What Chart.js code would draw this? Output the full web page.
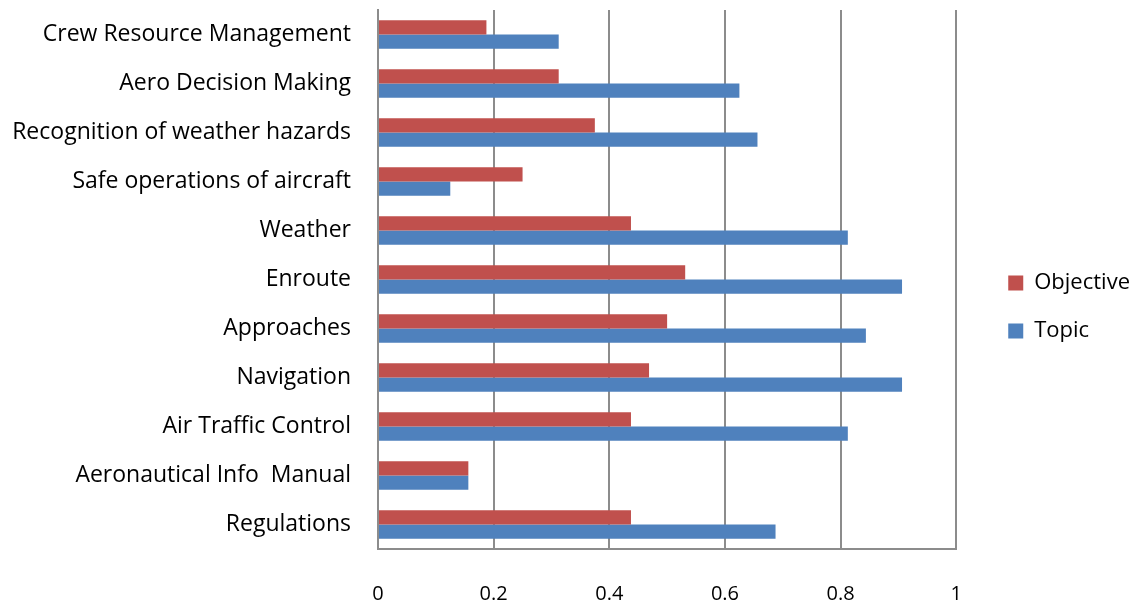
<!DOCTYPE html>
<html>
<head>
<meta charset="utf-8">
<script src="https://cdn.jsdelivr.net/npm/chart.js@4/dist/chart.umd.min.js"></script>
<style>
  html, body { margin: 0; padding: 0; background: #fff; }
  canvas { display: block; }
</style>
</head>
<body>
<canvas id="chart" width="1131" height="604"></canvas>
<script>
// data
const categories = ['Crew Resource Management', 'Aero Decision Making', 'Recognition of weather hazards',
  'Safe operations of aircraft', 'Weather', 'Enroute', 'Approaches', 'Navigation',
  'Air Traffic Control', 'Aeronautical Info  Manual', 'Regulations'];
const objective = [0.1875, 0.3125, 0.375, 0.25, 0.4375, 0.53125, 0.5, 0.46875, 0.4375, 0.15625, 0.4375];
const topic = [0.3125, 0.625, 0.65625, 0.125, 0.8125, 0.90625, 0.84375, 0.90625, 0.8125, 0.15625, 0.6875];
const xTicks = [0, 0.2, 0.4, 0.6, 0.8, 1];

const red = '#C0504D';
const blue = '#4F81BD';
const gridGray = '#8C8C8C';
const textColor = '#000000';

Chart.defaults.font.family = 'Open Sans';
Chart.defaults.color = textColor;

const ctx = document.getElementById('chart').getContext('2d');
new Chart(ctx, {
  type: 'bar',
  data: {
    labels: categories,
    datasets: [
      { label: 'Objective', data: objective, backgroundColor: red, categoryPercentage: 0.58, barPercentage: 1 },
      { label: 'Topic', data: topic, backgroundColor: blue, categoryPercentage: 0.58, barPercentage: 1 }
    ]
  },
  options: {
    indexAxis: 'y',
    responsive: false,
    animation: false,
    layout: { padding: { top: 10, right: -9, left: 0, bottom: 0 } },
    scales: {
      x: {
        min: 0, max: 1,
        afterBuildTicks: (scale) => { scale.ticks = xTicks.map(v => ({ value: v })); },
        grid: { color: gridGray, lineWidth: 2, drawTicks: false },
        border: { display: true, color: gridGray, width: 2 },
        ticks: { padding: 33, font: { size: 20 }, color: textColor, callback: (v) => String(v) },
        afterFit: (scale) => { scale.height = 55; }
      },
      y: {
        grid: { display: true, drawOnChartArea: false, drawTicks: true, tickLength: 27, tickColor: 'rgba(0,0,0,0)' },
        border: { display: true, color: gridGray, width: 2 },
        ticks: { padding: 0, font: { size: 23 }, color: textColor },
        afterFit: (scale) => {
          scale.width = 378;
          scale.paddingTop = 0;
          scale.paddingBottom = 0;
        }
      },
      // empty axis, only keeps a gap between the plot and the legend
      gap: {
        axis: 'y', position: 'right', type: 'category', labels: [''],
        grid: { display: false }, border: { display: false }, ticks: { display: false },
        afterFit: (scale) => { scale.width = 26; scale.paddingTop = 0; scale.paddingBottom = 0; }
      }
    },
    plugins: {
      legend: {
        display: true,
        position: 'right',
        labels: { boxWidth: 15, boxHeight: 15, padding: 26, font: { size: 22 }, color: textColor }
      },
      tooltip: { enabled: false }
    }
  }
});
</script>
</body>
</html>
